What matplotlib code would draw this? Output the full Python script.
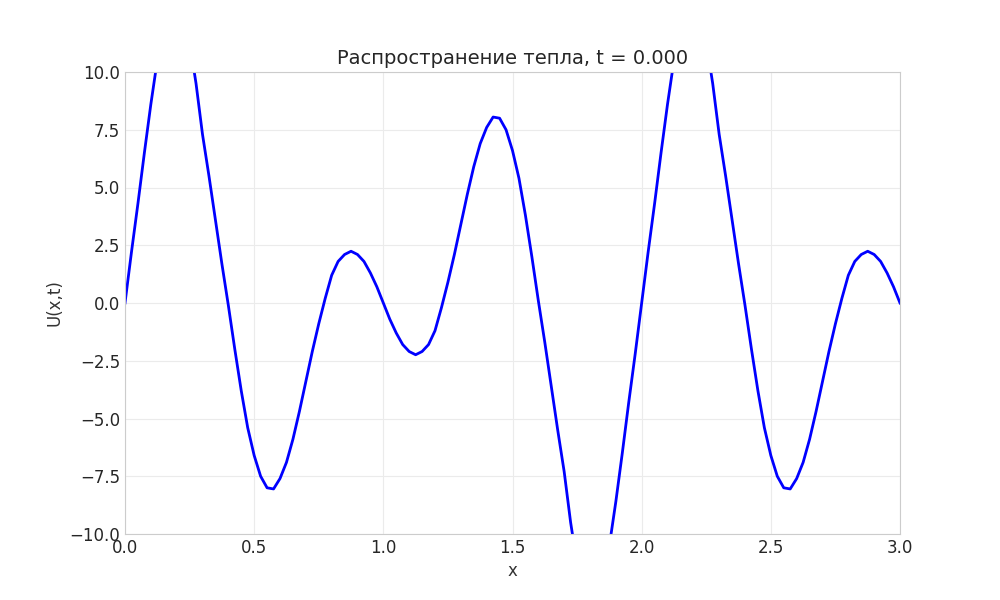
import matplotlib
matplotlib.use('Agg')
import matplotlib.pyplot as plt
import numpy as np

# values, every 0.025 in x
x_vals = np.linspace(0, 3, 121)
u_first = [0.0, 2.2, 4.3, 6.5, 8.6, 10.5, 12.0, 12.8, 13.0, 12.5, 11.3, 9.5, 7.3, 5.5, 3.6, 1.7, -0.1, -2.0, -3.8, -5.4,
           -6.6, -7.5, -8.0, -8.05, -7.6, -6.9, -5.9, -4.7, -3.4, -2.1, -0.9, 0.2, 1.2, 1.8, 2.1, 2.24, 2.1, 1.8, 1.3, 0.7]
u_second = [0.0, -0.7, -1.3, -1.8, -2.1, -2.24, -2.1, -1.8, -1.2, -0.2, 0.9, 2.1, 3.4, 4.7, 5.9, 6.9, 7.6, 8.05, 8.0, 7.5,
            6.6, 5.4, 3.8, 2.0, 0.1, -1.7, -3.6, -5.5, -7.3, -9.5, -11.3, -12.5, -13.0, -12.8, -12.0, -10.5, -8.6, -6.5, -4.3, -2.2]
u_third = [0.0, 2.2, 4.3, 6.5, 8.6, 10.5, 12.0, 12.8, 13.0, 12.5, 11.3, 9.5, 7.3, 5.5, 3.6, 1.7, -0.1, -2.0, -3.8, -5.4,
           -6.6, -7.5, -8.0, -8.05, -7.6, -6.9, -5.9, -4.7, -3.4, -2.1, -0.9, 0.2, 1.2, 1.8, 2.1, 2.24, 2.1, 1.8, 1.3, 0.7, 0.0]
u_vals = u_first + u_second + u_third
t_now = 0.0

fig, ax = plt.subplots(figsize=(10, 6), dpi=100)
ax.plot(x_vals, u_vals, color='blue', lw=2)
ax.set_xlim(0, 3)
ax.set_ylim(-10, 10)
ax.set_yticks(np.arange(-10, 10.1, 2.5))
ax.set_xlabel('x', fontsize=12, color='#333333')
ax.set_ylabel('U(x,t)', fontsize=12, color='#333333')
ax.set_title('Распространение тепла, t = %.3f' % t_now, fontsize=14, color='#262626')
ax.grid(True, color='#ebebeb', lw=0.8)
ax.tick_params(labelsize=12, length=0, colors='#262626')
for s in ax.spines.values():
    s.set_color('#cccccc')
plt.subplots_adjust(left=0.125, right=0.9, top=0.88, bottom=0.11)
plt.savefig('out.png')
